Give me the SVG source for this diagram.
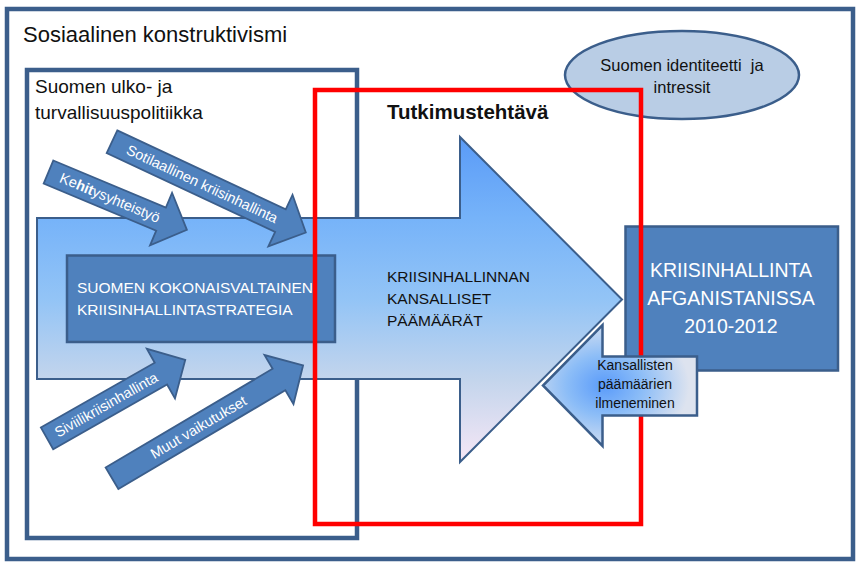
<svg xmlns="http://www.w3.org/2000/svg" width="865" height="573" viewBox="0 0 865 573">
<defs>
<linearGradient id="bigGrad" x1="0" y1="0" x2="0" y2="1">
<stop offset="0" stop-color="#5a9bf7"/>
<stop offset="0.25" stop-color="#76b3f9"/>
<stop offset="0.5" stop-color="#93c4f6"/>
<stop offset="0.75" stop-color="#c4d5ec"/>
<stop offset="1" stop-color="#f6e7f6"/>
</linearGradient>
<radialGradient id="smallGrad" cx="0.4" cy="0.5" r="0.55">
<stop offset="0" stop-color="#5a9bfa"/>
<stop offset="0.45" stop-color="#8cbdf7"/>
<stop offset="1" stop-color="#dde3ef"/>
</radialGradient>
</defs>
<style>
.frame{fill:none;stroke:#3b5e8b;stroke-width:4.5}
.box{fill:#4f81bd;stroke:#3b5e8b;stroke-width:2.5}
.diag{fill:#4f81bd;stroke:#3b5e8b;stroke-width:1.8}
.t{font-family:"Liberation Sans",Arial,sans-serif}
.w{fill:#ffffff}
.k{fill:#111111}
</style>
<rect x="0" y="0" width="865" height="573" fill="#ffffff"/>

<g id="outer">
<rect class="frame" x="7" y="9" width="846" height="550"/>
<text class="t k" x="23" y="42" font-size="22">Sosiaalinen konstruktivismi</text>
</g>

<g id="policy">
<rect class="frame" x="27" y="70" width="330" height="468" stroke-width="4"/>
<text class="t k" x="35" y="93" font-size="19">Suomen ulko- ja</text>
<text class="t k" x="35" y="119" font-size="19">turvallisuuspolitiikka</text>
</g>

<g id="identity">
<ellipse cx="682" cy="75" rx="117" ry="44" fill="#b9cde5" stroke="#3b5e8b" stroke-width="2.5"/>
<text class="t k" x="682" y="71" font-size="16.5" text-anchor="middle" xml:space="preserve">Suomen identiteetti  ja</text>
<text class="t k" x="682" y="93" font-size="16.5" text-anchor="middle">intressit</text>
</g>

<g id="goals">
<path d="M37,218 H460 V137 L622,299.5 L460,462 V379 H37 Z" fill="url(#bigGrad)" stroke="#3b5e8b" stroke-width="2"/>
<text class="t k" x="387" y="282" font-size="15.5">KRIISINHALLINNAN</text>
<text class="t k" x="387" y="304" font-size="15.5">KANSALLISET</text>
<text class="t k" x="387" y="326" font-size="15.5">PÄÄMÄÄRÄT</text>
</g>

<g id="connectors">
<g id="kehitys" transform="translate(48.5,172) rotate(22.7)">
<path class="diag" d="M0,-12.5 H122 V-28.5 L150,0 L122,28.5 V12.5 H0 Z"/>
<text class="t w" x="13" y="5" font-size="14.5">Ke<tspan font-weight="bold">hit</tspan>ysyhteistyö</text>
</g>
<g id="sotilaallinen" transform="translate(112,141.7) rotate(25.1)">
<path class="diag" d="M0,-12.5 H186 V-28.5 L214,0 L186,28.5 V12.5 H0 Z"/>
<text class="t w" x="17" y="5" font-size="14.5">Sotilaallinen kriisinhallinta</text>
</g>
<g id="siviili" transform="translate(47,438.3) rotate(-29.6)">
<path class="diag" d="M0,-12.5 H131 V-28.5 L159,0 L131,28.5 V12.5 H0 Z"/>
<text class="t w" x="10" y="5" font-size="14.5">Siviilikriisinhallinta</text>
</g>
<g id="muut" transform="translate(112,478.3) rotate(-30.6)">
<path class="diag" d="M0,-12.5 H194 V-28.5 L222,0 L194,28.5 V12.5 H0 Z"/>
<text class="t w" x="46" y="5" font-size="14.5">Muut vaikutukset</text>
</g>
</g>

<g id="strategy">
<rect class="box" x="67" y="255.5" width="268" height="86.5"/>
<text class="t w" x="77" y="293" font-size="15.5">SUOMEN KOKONAISVALTAINEN</text>
<text class="t w" x="77" y="315" font-size="15.5">KRIISINHALLINTASTRATEGIA</text>
</g>

<g id="afghanistan">
<rect class="box" x="625.5" y="226.5" width="212.5" height="144"/>
<text class="t w" x="731" y="277" font-size="19.5" text-anchor="middle">KRIISINHALLINTA</text>
<text class="t w" x="731" y="305" font-size="19.5" text-anchor="middle">AFGANISTANISSA</text>
<text class="t w" x="731" y="333" font-size="19.5" text-anchor="middle">2010-2012</text>
</g>

<g id="research">
<rect x="315" y="90" width="326" height="434" fill="none" stroke="#ff0000" stroke-width="4.5"/>
<text class="t k" x="387" y="119" font-size="20.5" font-weight="bold">Tutkimustehtävä</text>
</g>

<g id="manifestation">
<path d="M697,356.5 H602.5 V325 L543,385.5 L602.5,446 V415.5 H697 Z" fill="url(#smallGrad)" stroke="#3b5e8b" stroke-width="2.5"/>
<text class="t k" x="635" y="370" font-size="14" text-anchor="middle">Kansallisten</text>
<text class="t k" x="635" y="389" font-size="14" text-anchor="middle">päämäärien</text>
<text class="t k" x="635" y="408" font-size="14" text-anchor="middle">ilmeneminen</text>
</g>
</svg>
